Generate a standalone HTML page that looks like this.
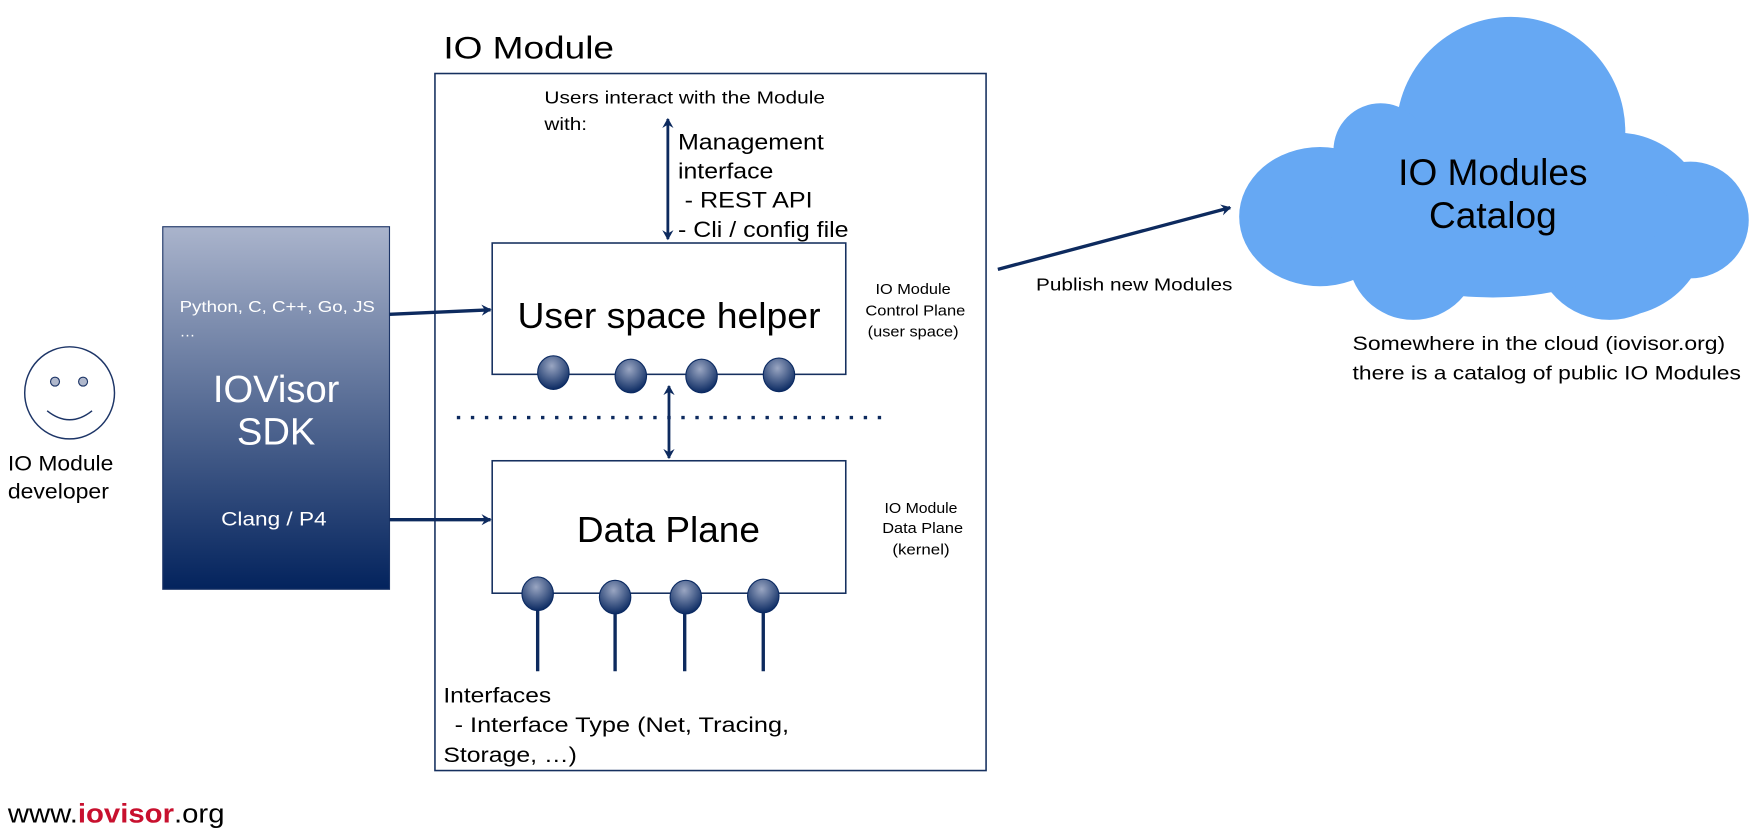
<!DOCTYPE html>
<html><head><meta charset="utf-8"><style>
html,body{margin:0;padding:0;background:#fff;}
svg{display:block;}
text{font-family:"Liberation Sans",Arial,sans-serif;}
</style></head><body>
<svg width="1760" height="837" viewBox="0 0 1568 745.7" xmlns="http://www.w3.org/2000/svg">
<defs>
<linearGradient id="sdk" x1="0" y1="0" x2="0" y2="1">
<stop offset="0" stop-color="#aab4cc"/><stop offset="1" stop-color="#03235d"/>
</linearGradient>
<radialGradient id="ball" cx="0.45" cy="0.3" r="0.7">
<stop offset="0" stop-color="#9aa6c2"/><stop offset="1" stop-color="#0b2a62"/>
</radialGradient>
<marker id="ah" markerWidth="10" markerHeight="10" refX="8" refY="5" orient="auto" markerUnits="userSpaceOnUse">
<path d="M0,0 L9,5 L0,10 L3,5 Z" fill="#0d2a5e"/>
</marker>
<marker id="ahs" markerWidth="10" markerHeight="10" refX="2" refY="5" orient="auto" markerUnits="userSpaceOnUse">
<path d="M10,0 L1,5 L10,10 L7,5 Z" fill="#0d2a5e"/>
</marker>
</defs>

<text x="395" y="52" font-size="28" textLength="152" lengthAdjust="spacingAndGlyphs">IO Module</text>
<rect x="387.5" y="65.5" width="491" height="621" fill="none" stroke="#16305f" stroke-width="1.4"/>
<text x="485" y="92" font-size="16" textLength="250" lengthAdjust="spacingAndGlyphs">Users interact with the Module</text>
<text x="485" y="116" font-size="16" textLength="38" lengthAdjust="spacingAndGlyphs">with:</text>
<line x1="595" y1="106" x2="595" y2="213" stroke="#0d2a5e" stroke-width="2.5" marker-start="url(#ahs)" marker-end="url(#ah)"/>
<g font-size="20">
<text x="604" y="133" textLength="130" lengthAdjust="spacingAndGlyphs">Management</text>
<text x="604" y="159" textLength="85" lengthAdjust="spacingAndGlyphs">interface</text>
<text x="610" y="185" textLength="114" lengthAdjust="spacingAndGlyphs">- REST API</text>
<text x="604" y="211" textLength="152" lengthAdjust="spacingAndGlyphs">- Cli / config file</text>
</g>

<rect x="438.5" y="216.5" width="315" height="117" fill="#fff" stroke="#16305f" stroke-width="1.4"/>
<text x="461" y="292" font-size="32" textLength="270" lengthAdjust="spacingAndGlyphs">User space helper</text>
<g fill="url(#ball)" stroke="#0b2a62" stroke-width="1">
<ellipse cx="493" cy="332" rx="14" ry="15"/><ellipse cx="562" cy="335" rx="14" ry="15"/><ellipse cx="625" cy="335" rx="14" ry="15"/><ellipse cx="694" cy="334" rx="14" ry="15"/>
</g>
<g font-size="13">
<text x="780" y="262" textLength="67" lengthAdjust="spacingAndGlyphs">IO Module</text>
<text x="771" y="281" textLength="89" lengthAdjust="spacingAndGlyphs">Control Plane</text>
<text x="773" y="300" textLength="81" lengthAdjust="spacingAndGlyphs">(user space)</text>
<text x="788" y="457" textLength="65" lengthAdjust="spacingAndGlyphs">IO Module</text>
<text x="786" y="475" textLength="72" lengthAdjust="spacingAndGlyphs">Data Plane</text>
<text x="795" y="494" textLength="51" lengthAdjust="spacingAndGlyphs">(kernel)</text>
</g>

<line x1="407" y1="372" x2="785" y2="372" stroke="#0d2a5e" stroke-width="3" stroke-dasharray="3,9.5"/>
<line x1="596" y1="344" x2="596" y2="408" stroke="#0d2a5e" stroke-width="2.5" marker-start="url(#ahs)" marker-end="url(#ah)"/>

<rect x="438.5" y="410.5" width="315" height="118" fill="#fff" stroke="#16305f" stroke-width="1.4"/>
<text x="514" y="483" font-size="32" textLength="163" lengthAdjust="spacingAndGlyphs">Data Plane</text>
<g stroke="#0d2a5e" stroke-width="3">
<line x1="479" y1="530" x2="479" y2="598"/><line x1="548" y1="530" x2="548" y2="598"/><line x1="610" y1="530" x2="610" y2="598"/><line x1="680" y1="530" x2="680" y2="598"/>
</g>
<g fill="url(#ball)" stroke="#0b2a62" stroke-width="1">
<ellipse cx="479" cy="529" rx="14" ry="15"/><ellipse cx="548" cy="532" rx="14" ry="15"/><ellipse cx="611" cy="532" rx="14" ry="15"/><ellipse cx="680" cy="531" rx="14" ry="15"/>
</g>

<g font-size="19">
<text x="395" y="626" textLength="96" lengthAdjust="spacingAndGlyphs">Interfaces</text>
<text x="405" y="652" textLength="298" lengthAdjust="spacingAndGlyphs">- Interface Type (Net, Tracing,</text>
<text x="395" y="679" textLength="119" lengthAdjust="spacingAndGlyphs">Storage, …)</text>
</g>

<rect x="145" y="202" width="202" height="323" fill="url(#sdk)" stroke="#1d3567" stroke-width="1"/>
<text x="160" y="278" font-size="14" fill="#fff" textLength="174" lengthAdjust="spacingAndGlyphs">Python, C, C++, Go, JS</text>
<text x="160" y="300" font-size="14" fill="#fff">…</text>
<text x="246" y="358" font-size="34" fill="#fff" text-anchor="middle">IOVisor</text>
<text x="246" y="396" font-size="34" fill="#fff" text-anchor="middle">SDK</text>
<text x="197" y="468" font-size="17" fill="#fff" textLength="94" lengthAdjust="spacingAndGlyphs">Clang / P4</text>
<line x1="347" y1="280" x2="437" y2="276" stroke="#0d2a5e" stroke-width="3" marker-end="url(#ah)"/>
<line x1="347" y1="463" x2="437" y2="463" stroke="#0d2a5e" stroke-width="3" marker-end="url(#ah)"/>

<ellipse cx="62" cy="350" rx="40" ry="41" fill="#fff" stroke="#1d3567" stroke-width="1.3"/>
<circle cx="49" cy="340" r="4" fill="#b0b8cc" stroke="#1d3567" stroke-width="1"/>
<circle cx="74" cy="340" r="4" fill="#b0b8cc" stroke="#1d3567" stroke-width="1"/>
<path d="M42,366 Q62,382 82,366" fill="none" stroke="#1d3567" stroke-width="1.3"/>
<text x="7" y="419" font-size="19" textLength="94" lengthAdjust="spacingAndGlyphs">IO Module</text>
<text x="7" y="444" font-size="19" textLength="90" lengthAdjust="spacingAndGlyphs">developer</text>

<text x="7" y="733" font-size="24" textLength="193" lengthAdjust="spacingAndGlyphs">www.<tspan fill="#c8102e" font-weight="bold">iovisor</tspan>.org</text>

<line x1="889" y1="240" x2="1096" y2="185" stroke="#0d2a5e" stroke-width="3" marker-end="url(#ah)"/>
<text x="923" y="259" font-size="16" textLength="175" lengthAdjust="spacingAndGlyphs">Publish new Modules</text>

<g fill="#66a8f3">
<circle cx="1346" cy="117" r="102"/>
<ellipse cx="1176" cy="193" rx="72" ry="62"/>
<circle cx="1230" cy="134" r="42"/>
<circle cx="1440" cy="200" r="82"/>
<circle cx="1506" cy="196" r="52"/>
<circle cx="1259" cy="227" r="58"/>
<circle cx="1434" cy="218" r="67"/>
<ellipse cx="1330" cy="190" rx="150" ry="75"/>
</g>
<text x="1330" y="165" font-size="33" text-anchor="middle">IO Modules</text>
<text x="1330" y="203" font-size="33" text-anchor="middle">Catalog</text>
<text x="1205" y="312" font-size="17.5" textLength="332" lengthAdjust="spacingAndGlyphs">Somewhere in the cloud (iovisor.org)</text>
<text x="1205" y="338" font-size="17.5" textLength="346" lengthAdjust="spacingAndGlyphs">there is a catalog of public IO Modules</text>
</svg>
</body></html>
